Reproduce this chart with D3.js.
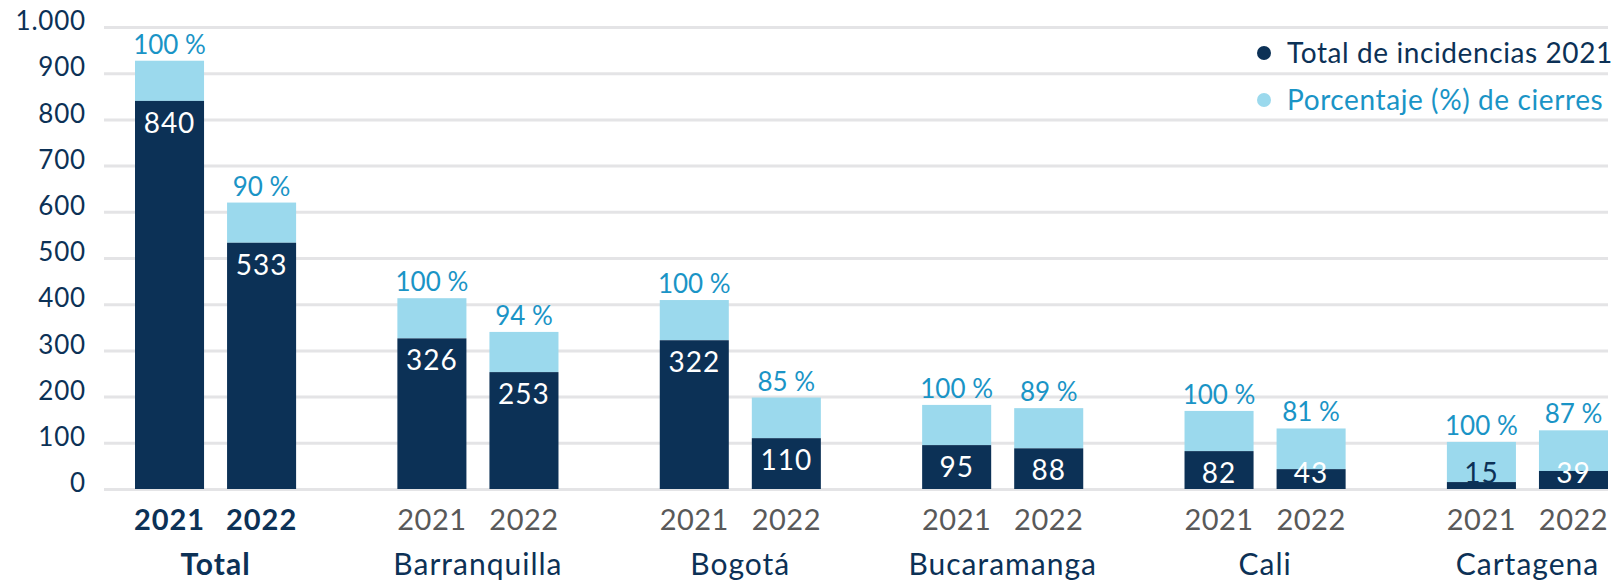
<!DOCTYPE html>
<html>
<head>
<meta charset="utf-8">
<script src="https://cdn.jsdelivr.net/npm/d3@7"></script>
<style>
  body { margin: 0; background: #fff; }
  svg text { font-family: "Lato", "Open Sans", sans-serif; }
</style>
</head>
<body>
<div id="chart-area"></div>
<script>
// datos
var ciudades = ["Total", "Barranquilla", "Bogotá", "Bucaramanga", "Cali", "Cartagena"];
var anios = ["2021", "2022"];
var incidencias2021 = [840, 326, 322, 95, 82, 15];
var incidencias2022 = [533, 253, 110, 88, 43, 39];
var cierres2021 = [100, 100, 100, 100, 100, 100];
var cierres2022 = [90, 94, 85, 89, 81, 87];
// alto del segmento claro (cierres)
var capa2021 = [87, 87, 87, 87, 87, 87];
var capa2022 = [87, 87, 88, 87, 88, 88];
var yTicks = [0, 100, 200, 300, 400, 500, 600, 700, 800, 900, 1000];
var leyenda = ["Total de incidencias 2021", "Porcentaje (%) de cierres"];

var oscuro = "#0c3156";
var claro = "#9bd9ed";
var azul = "#1a94c6";

var W = 1615, H = 582;
var gridLeft = 104, gridRight = 1608;

var svg = d3.select("#chart-area")
    .append("svg")
        .attr("width", W)
        .attr("height", H);

var locale = d3.formatLocale({ decimal: ",", thousands: ".", grouping: [3], currency: ["$", ""] });
var fmt = locale.format(",");

// escalas
var y = d3.scaleLinear().domain([0, 1000]).range([489, 27]);

var x0 = d3.scaleBand()
    .domain(ciudades)
    .range([135, 1608])
    .paddingInner(0.386)
    .paddingOuter(0);

var x1 = d3.scaleBand()
    .domain(anios)
    .range([0, x0.bandwidth()])
    .paddingInner(0.25)
    .paddingOuter(0);

// eje Y + grilla
var yAxisGroup = svg.append("g")
    .attr("transform", "translate(" + gridLeft + ", 0)")
    .call(d3.axisLeft(y)
        .tickValues(yTicks)
        .tickSize(-(gridRight - gridLeft))
        .tickPadding(18)
        .tickFormat(fmt));
yAxisGroup.select(".domain").remove();
yAxisGroup.selectAll("line")
    .attr("stroke", "#e4e4e6")
    .attr("stroke-width", 3);
yAxisGroup.selectAll("text")
    .attr("fill", oscuro)
    .attr("font-size", "26px")
    .attr("letter-spacing", "0.8px")
    .attr("dy", "0.1em");

// armar datos por barra
var datos = [];
ciudades.forEach(function(c, i) {
    datos.push({ ciudad: c, anio: "2021", valor: incidencias2021[i], pct: cierres2021[i], capa: capa2021[i], idx: i });
    datos.push({ ciudad: c, anio: "2022", valor: incidencias2022[i], pct: cierres2022[i], capa: capa2022[i], idx: i });
});

var bx = function(d) { return x0(d.ciudad) + x1(d.anio); };
var cx = function(d) { return bx(d) + x1.bandwidth() / 2; };

var barras = svg.append("g").selectAll("g")
    .data(datos)
    .enter()
    .append("g");

// segmento claro
barras.append("rect")
    .attr("x", bx)
    .attr("y", function(d) { return y(d.valor + d.capa); })
    .attr("width", x1.bandwidth())
    .attr("height", function(d) { return y(d.valor) - y(d.valor + d.capa); })
    .attr("fill", claro);

// segmento oscuro
barras.append("rect")
    .attr("x", bx)
    .attr("y", function(d) { return y(d.valor); })
    .attr("width", x1.bandwidth())
    .attr("height", function(d) { return y(0) - y(d.valor); })
    .attr("fill", oscuro);

// etiqueta valor
barras.append("text")
    .attr("x", cx)
    .attr("y", function(d) { return Math.min(y(d.valor) + 32, y(0) - 6); })
    .attr("text-anchor", "middle")
    .attr("font-size", "28px")
    .attr("letter-spacing", "1px")
    .attr("fill", function(d) { return (y(0) - y(d.valor)) < 15 ? oscuro : "#fff"; })
    .text(function(d) { return d.valor; });

// etiqueta porcentaje
barras.append("text")
    .attr("x", cx)
    .attr("y", function(d) { return y(d.valor + d.capa) - 7; })
    .attr("text-anchor", "middle")
    .attr("font-size", "26px")
    .attr("fill", azul)
    .text(function(d) { return d.pct + " %"; });

// eje X: anios
barras.append("text")
    .attr("x", cx)
    .attr("y", 530)
    .attr("text-anchor", "middle")
    .attr("font-size", "29px")
    .attr("letter-spacing", function(d) { return d.idx === 0 ? "1px" : "0.5px"; })
    .attr("font-weight", function(d) { return d.idx === 0 ? "bold" : "normal"; })
    .attr("fill", function(d) { return d.idx === 0 ? oscuro : "#595959"; })
    .text(function(d) { return d.anio; });

// eje X: ciudades
svg.append("g").selectAll("text")
    .data(ciudades)
    .enter()
    .append("text")
        .attr("x", function(d) { return x0(d) + x0.bandwidth() / 2; })
        .attr("y", 575)
        .attr("text-anchor", "middle")
        .attr("font-size", "30px")
        .attr("letter-spacing", "1px")
        .attr("font-weight", function(d, i) { return i === 0 ? "bold" : "normal"; })
        .attr("fill", oscuro)
        .text(function(d) { return d; });

// leyenda
var ley = svg.append("g").selectAll("g")
    .data(leyenda)
    .enter()
    .append("g")
        .attr("transform", function(d, i) { return "translate(1264, " + (53 + i * 47) + ")"; });

ley.append("circle")
    .attr("r", 7)
    .attr("fill", function(d, i) { return i === 0 ? oscuro : claro; });

ley.append("text")
    .attr("x", 23)
    .attr("y", 10)
    .attr("font-size", "28px")
    .attr("letter-spacing", "0.6px")
    .attr("fill", function(d, i) { return i === 0 ? oscuro : azul; })
    .text(function(d) { return d; });
</script>
</body>
</html>
